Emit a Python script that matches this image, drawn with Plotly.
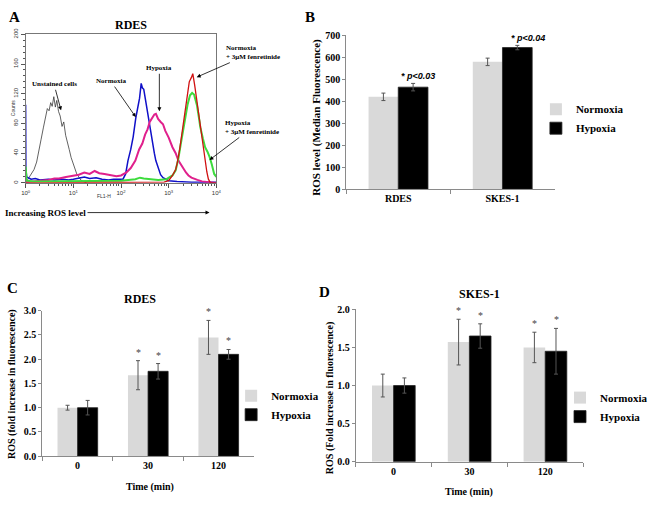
import plotly.graph_objects as go

W, H = 653, 507

# ---------------- Panel A: flow cytometry histograms (FL1-H vs Counts) ----------------
unstained_fl = [1.0, 1.1, 1.2, 1.35, 1.5, 1.7, 1.9, 2.1, 2.35, 2.6, 2.85, 3.1, 3.35, 3.6, 3.9, 4.2,
                4.5, 4.9, 5.3, 5.8, 6.3, 6.9, 7.5, 8.2, 9.0, 9.9, 10.8, 11.8, 13.0, 14.3, 16.0, 19.0]
unstained_counts = [0, 4, 7, 12, 18, 28, 42, 58, 74, 90, 100, 97, 108, 103, 116, 102,
                    111, 96, 90, 76, 82, 64, 56, 45, 34, 26, 18, 12, 8, 4, 2, 0]

normoxia_fl = [1.0, 1.01, 1.05, 1.3, 1.6, 2, 3, 4, 6, 8, 10, 13, 17, 22, 30, 40, 55, 70, 90, 110,
               125, 140, 160, 180, 205, 225, 245, 265, 280, 300, 325, 350, 390, 420, 457, 500,
               537, 600, 676, 760, 850, 1000, 1500, 3000, 10000]
normoxia_counts = [105, 20, 8, 5, 6, 4, 5, 4, 5, 4, 5, 6, 8, 6, 7, 5, 4, 5, 5, 5,
                   12, 30, 45, 62, 88, 100, 114, 134, 128, 126, 112, 100, 79, 65, 53, 40,
                   30, 20, 11, 7, 5, 3, 2, 1, 1]

hypoxia_fl = [1.0, 1.5, 2, 3, 4, 5, 7, 10, 13, 17, 22, 28, 35, 45, 60, 80, 100, 130, 160, 200,
              240, 280, 320, 360, 400, 450, 500, 540, 600, 680, 760, 850, 1000, 1200, 1400,
              1600, 1900, 2300, 2600, 3000, 4000, 5000, 7000, 10000]
hypoxia_counts = [1, 2, 3, 4, 6, 6, 8, 10, 11, 14, 12, 16, 13, 12, 10, 9, 10, 14, 20, 30,
                  45, 53, 65, 72, 82, 88, 92, 93, 86, 82, 79, 70, 61, 48, 40,
                  30, 22, 14, 10, 7, 4, 2, 1, 0]

hyp_fen_fl = [1.0, 1.01, 1.05, 1.5, 3, 10, 30, 100, 200, 250, 300, 400, 600, 900, 1200, 1400,
              1600, 1800, 2000, 2250, 2500, 2800, 3100, 3400, 3900, 4300, 4600, 5200, 5800,
              6500, 7200, 8000, 9000, 10000]
hyp_fen_counts = [22, 8, 3, 2, 2, 2, 3, 3, 5, 7, 6, 5, 4, 5, 10, 17,
                  33, 53, 72, 92, 106, 118, 121, 119, 105, 88, 75, 60, 48,
                  42, 35, 25, 12, 8]

norm_fen_fl = [1, 100, 500, 800, 1000, 1200, 1400, 1500, 1700, 1900, 2100, 2400, 2700, 3000,
               3200, 3500, 3800, 4200, 4600, 5100, 5700, 6300, 6800, 7500, 10000]
norm_fen_counts = [0, 0, 0, 1, 3, 10, 18, 26, 45, 66, 90, 114, 136, 142,
                   147, 132, 115, 96, 78, 55, 30, 15, 5, 0, 0]

a_xtick_vals = [1, 10, 100, 1000, 10000]
a_xtick_text = ["10<sup>0</sup>", "10<sup>1</sup>", "10<sup>2</sup>", "10<sup>3</sup>", "10<sup>4</sup>"]
a_ytick_vals = [0, 40, 80, 120, 160, 200]

# ---------------- Panel B: median fluorescence ----------------
b_cells = ["RDES", "SKES-1"]
b_normoxia = [420, 579]
b_normoxia_err = [17, 17]
b_hypoxia = [464, 644]
b_hypoxia_err = [17, 10]
b_pvalues = ["* p<0.03", "* p<0.04"]

# ---------------- Panel C: RDES time course ----------------
time_labels = ["0", "30", "120"]
c_normoxia = [1.0, 1.67, 2.45]
c_normoxia_err = [0.05, 0.30, 0.35]
c_hypoxia = [1.0, 1.75, 2.10]
c_hypoxia_err = [0.15, 0.16, 0.10]
c_star_n = [False, True, True]
c_star_h = [False, True, True]

# ---------------- Panel D: SKES-1 time course ----------------
d_normoxia = [1.0, 1.57, 1.50]
d_normoxia_err = [0.15, 0.30, 0.20]
d_hypoxia = [1.0, 1.65, 1.45]
d_hypoxia_err = [0.10, 0.16, 0.30]
d_star_n = [False, True, True]
d_star_h = [False, True, True]

GRAY = "#d9d9d9"
AXIS = "#8a8a8a"
SERIF = "Liberation Serif"
SANS = "Liberation Sans"


def px(x):
    return x / W


def py(y):
    return 1 - y / H


fig = go.Figure()

# histograms
for fl, cnt, col, wd in [
    (unstained_fl, unstained_counts, "#3a3a3a", 0.8),
    (normoxia_fl, normoxia_counts, "#1010c8", 1.5),
    (hypoxia_fl, hypoxia_counts, "#e0208c", 2.0),
    (hyp_fen_fl, hyp_fen_counts, "#3ddc3d", 2.0),
    (norm_fen_fl, norm_fen_counts, "#d01010", 1.3),
]:
    fig.add_trace(go.Scatter(x=fl, y=cnt, mode="lines", line=dict(color=col, width=wd),
                             xaxis="x", yaxis="y", showlegend=False, hoverinfo="skip"))

errstyle = dict(type="data", color="#555555", thickness=1, width=2)


def add_bars(xa, ya, cats, nv, ne, hv, he, legend):
    fig.add_trace(go.Bar(x=cats, y=nv, name="Normoxia", marker=dict(color=GRAY, line=dict(width=0)),
                         error_y=dict(array=ne, **errstyle), xaxis=xa, yaxis=ya, legend=legend))
    fig.add_trace(go.Bar(x=cats, y=hv, name="Hypoxia",
                         marker=dict(color="black", line=dict(color="#222", width=0.8)),
                         error_y=dict(array=he, **errstyle), xaxis=xa, yaxis=ya, legend=legend))


add_bars("x2", "y2", b_cells, b_normoxia, b_normoxia_err, b_hypoxia, b_hypoxia_err, "legend")
add_bars("x3", "y3", time_labels, c_normoxia, c_normoxia_err, c_hypoxia, c_hypoxia_err, "legend2")
add_bars("x4", "y4", time_labels, d_normoxia, d_normoxia_err, d_hypoxia, d_hypoxia_err, "legend3")

bold10 = dict(family=SERIF, size=10, color="black", weight="bold")

cat_x = dict(type="category", showline=True, linecolor=AXIS, linewidth=1, ticks="outside",
             tickson="boundaries", ticklen=4, tickcolor=AXIS, tickfont=bold10,
             showgrid=False, zeroline=False)
val_y = dict(showline=True, linecolor=AXIS, linewidth=1, ticks="outside", ticklen=3,
             tickcolor=AXIS, tickfont=bold10, showgrid=False, zeroline=False)

minor_x = [v * m for v in [1, 10, 100, 1000] for m in range(2, 10)]
leg = dict(xanchor="left", yanchor="top", font=dict(bold10, size=11),
           bgcolor="rgba(0,0,0,0)", tracegroupgap=0)

fig.update_layout(
    width=W, height=H, margin=dict(l=0, r=0, t=0, b=0),
    paper_bgcolor="white", plot_bgcolor="white",
    font=dict(family=SERIF, color="black"),
    barmode="group", bargap=0.43, bargroupgap=0,
    xaxis=dict(type="log", range=[0, 4], domain=[px(21), px(215)], anchor="y",
               showline=True, linecolor="#777", mirror=True, linewidth=1,
               ticks="outside", ticklen=4, tickcolor="#555",
               tickvals=a_xtick_vals, ticktext=a_xtick_text,
               tickfont=dict(family=SANS, size=6, color="#333"),
               minor=dict(ticks="outside", ticklen=2, tickcolor="#555", tickvals=minor_x),
               showgrid=False, zeroline=False),
    yaxis=dict(range=[0, 200], domain=[py(180.5), py(28)], anchor="x",
               showline=True, linecolor="#777", mirror=True, linewidth=1,
               ticks="outside", ticklen=4, tickcolor="#555",
               tickvals=a_ytick_vals, tickangle=-90,
               tickfont=dict(family=SANS, size=6, color="#333"),
               minor=dict(ticks="outside", ticklen=2, tickcolor="#555", dtick=8),
               showgrid=False, zeroline=False),
    xaxis2=dict(cat_x, domain=[px(347), px(559)], anchor="y2", range=[-0.5, 1.5]),
    yaxis2=dict(val_y, domain=[py(187), py(29)], anchor="x2", range=[0, 700], dtick=100),
    xaxis3=dict(cat_x, domain=[px(38), px(253)], anchor="y3", range=[-0.5, 2.5]),
    yaxis3=dict(val_y, domain=[py(461), py(311.7)], anchor="x3", range=[0, 3], dtick=0.5,
                tickformat=".1f"),
    xaxis4=dict(cat_x, domain=[px(356.7), px(588)], anchor="y4", range=[-0.5, 2.5]),
    yaxis4=dict(val_y, domain=[py(466.7), py(310.3)], anchor="x4", range=[0, 2], dtick=0.5,
                tickformat=".1f"),
    legend=dict(leg, x=px(540), y=py(90)),
    legend2=dict(leg, x=px(230), y=py(384)),
    legend3=dict(leg, x=px(565), y=py(386)),
)

ann = []


def text(x, y, t, size=10, bold=True, angle=0, xanchor="center", family=SERIF, italic=False,
         color="black"):
    ann.append(dict(x=px(x), y=py(y), xref="paper", yref="paper", text=t, showarrow=False,
                    textangle=angle, xanchor=xanchor, yanchor="middle",
                    font=dict(family=family, size=size, color=color,
                              weight="bold" if bold else "normal",
                              style="italic" if italic else "normal")))


def label_arrow(tx, ty, hx, hy, t, size=7):
    # text centred at (tx, ty), arrow pointing to (hx, hy)
    ann.append(dict(x=px(hx), y=py(hy), xref="paper", yref="paper", text=t, showarrow=True,
                    ax=tx - hx, ay=ty - hy, axref="pixel", ayref="pixel", align="left",
                    arrowhead=2, arrowsize=1, arrowwidth=0.8, arrowcolor="black", standoff=0,
                    font=dict(family=SERIF, size=size, color="black", weight="bold")))


# Panel letters and titles
text(10, 10, "A", size=15)
text(310, 10, "B", size=15)
text(8, 288, "C", size=15)
text(325, 293, "D", size=15)
text(128, 18, "RDES", size=12)
text(137, 300, "RDES", size=12)
text(483, 295, "SKES-1", size=12)

# Panel A labels
text(8, 104, "Counts", size=5, bold=False, angle=-90, family=SANS, color="#333")
text(101, 194, "FL1-H", size=5, bold=False, family=SANS, color="#333")
label_arrow(50, 80, 57, 106, "Unstained cells")
label_arrow(108, 77, 133, 113, "Normoxia")
label_arrow(157, 64, 157, 107, "Hypoxia")
label_arrow(251, 47.5, 195, 72, "Normoxia<br>+ 3μM fenretinide")
label_arrow(251, 124.5, 208, 157, "Hypoxia<br>+ 3μM fenretinide")
label_arrow(44, 211, 208, 211, "Increasing ROS level", size=9)

# Panel B labels
text(316, 113, "ROS level (Median Fluorescence)", size=11, angle=-90)
for i, p in enumerate(b_pvalues):
    ann.append(dict(x=i, y=b_hypoxia[i] + b_hypoxia_err[i], xref="x2", yref="y2", text=p,
                    showarrow=False, xanchor="left", yanchor="bottom",
                    xshift=1 if i == 0 else 7, yshift=0,
                    font=dict(family=SANS, size=9, color="black", weight="bold", style="italic")))

# Panel C/D axis titles
text(7, 387, "ROS (fold increase in fluorescence)", size=10, angle=-90)
text(147, 493, "Time (min)", size=10)
text(330, 401, "ROS (Fold increase in fluorescence)", size=10, angle=-90)
text(472, 498, "Time (min)", size=10)


def stars(xa, ya, vals, errs, flags, shift):
    for i, (v, e, f) in enumerate(zip(vals, errs, flags)):
        if f:
            ann.append(dict(x=i, y=v + e, xref=xa, yref=ya, text="*", showarrow=False,
                            xshift=shift, yanchor="bottom", yshift=1,
                            font=dict(family=SERIF, size=10, color="#444")))


stars("x3", "y3", c_normoxia, c_normoxia_err, c_star_n, -10)
stars("x3", "y3", c_hypoxia, c_hypoxia_err, c_star_h, 10)
stars("x4", "y4", d_normoxia, d_normoxia_err, d_star_n, -11)
stars("x4", "y4", d_hypoxia, d_hypoxia_err, d_star_h, 11)

fig.update_layout(annotations=ann)
fig.write_html("out.html", config={"displayModeBar": False},
               post_script="document.body.style.margin='0';")
